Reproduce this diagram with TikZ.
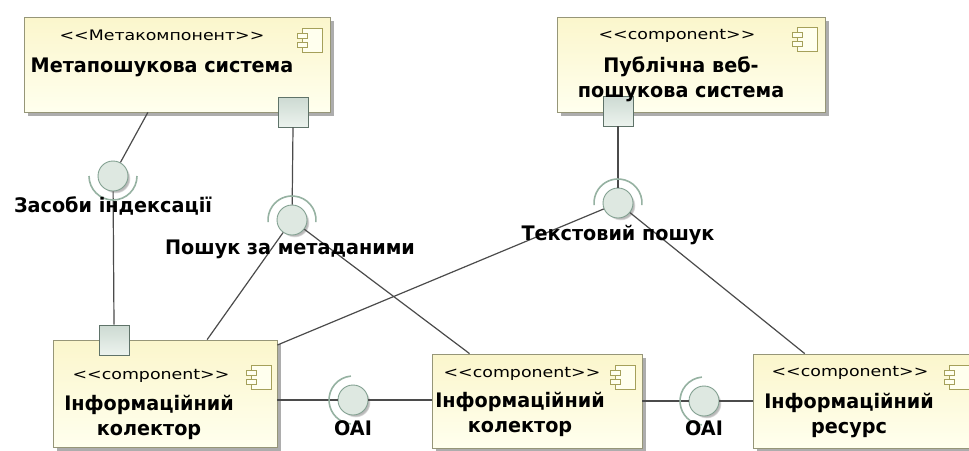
\documentclass[tikz,border=0pt]{standalone}
\usepackage{fontspec}
\setmainfont{DejaVu Sans}
\newfontfamily\stereofont[FakeStretch=1.2]{DejaVu Sans}
\newfontfamily\namefont[FakeStretch=0.96]{DejaVu Sans}
\usetikzlibrary{shadows,calc}

\definecolor{boxtop}{RGB}{251,246,204}
\definecolor{boxbot}{RGB}{255,255,238}
\definecolor{boxline}{RGB}{150,150,120}
\definecolor{iconline}{RGB}{165,160,90}
\definecolor{portline}{RGB}{95,115,105}
\definecolor{porttop}{RGB}{205,218,210}
\definecolor{portbot}{RGB}{236,243,238}
\definecolor{ballfill}{RGB}{222,232,225}
\definecolor{ballline}{RGB}{130,160,145}
\definecolor{socketc}{RGB}{150,178,162}
\definecolor{wirec}{RGB}{75,75,75}

\begin{document}
\begin{tikzpicture}[x=1pt,y=-1pt,
  comp/.style={rectangle, draw=boxline, line width=0.8pt,
    top color=boxtop, bottom color=boxbot, inner sep=0pt,
    drop shadow={shadow xshift=3.5pt, shadow yshift=-3.5pt, fill=black!32, opacity=1}},
  port/.style={rectangle, draw=portline, line width=0.8pt,
    top color=porttop, bottom color=portbot, minimum size=30pt, inner sep=0pt},
  ball/.style={circle, draw=ballline, fill=ballfill, line width=0.9pt,
    minimum size=30pt, inner sep=0pt,
    circular drop shadow={shadow scale=1, shadow xshift=2.5pt, shadow yshift=-2.5pt, fill=black!28, opacity=1}},
  sock/.style={draw=socketc, line width=1.6pt},
  wire/.style={draw=wirec, line width=1.2pt},
  stereo/.style={font=\stereofont\fontsize{14.5}{18}\selectfont, inner sep=0pt, anchor=base},
  % multi-line names: the base anchor sits on the last line
  cname/.style={font=\namefont\bfseries\fontsize{20}{25}\selectfont, align=center, inner sep=0pt, anchor=base},
  lbl/.style={font=\namefont\bfseries\fontsize{20}{25}\selectfont, inner sep=0pt, anchor=base},
  compicon/.pic={
    \draw[iconline, line width=0.9pt, fill=boxbot] (-8,-12) rectangle (12,12);
    \draw[iconline, line width=0.9pt, fill=boxbot] (-13,-7) rectangle (-3,-2);
    \draw[iconline, line width=0.9pt, fill=boxbot] (-13,2) rectangle (-3,7);
  }
]
\useasboundingbox[fill=white] (0,0) rectangle (969,450);

% components
\node[comp, minimum width=306pt, minimum height=95pt] (meta) at (177,64.5) {};
\node[comp, minimum width=268pt, minimum height=95pt] (pub)  at (691,64.5) {};
\node[comp, minimum width=224pt, minimum height=107pt] (colA) at (165,393.5) {};
\node[comp, minimum width=210pt, minimum height=94pt] (colB) at (537,401) {};
\node[comp, minimum width=222pt, minimum height=94pt] (res)  at (864,401) {};

% component icons
\pic at (310,40) {compicon};
\pic at (805,39) {compicon};
\pic at (259,377) {compicon};
\pic at (623,377) {compicon};
\pic at (957,377) {compicon};

% ports
\node[port] (mp) at (293,112) {};
\node[port] (pp) at (618,111) {};
\node[port] (ap) at (114,340) {};

% provided interfaces
\node[ball] (idx)   at (113,176) {};
\node[ball] (mball) at (292,220) {};
\node[ball] (tball) at (618,203) {};
\node[ball] (oai1)  at (353,400) {};
\node[ball] (oai2)  at (704,401) {};

% attachment points on the component borders
\coordinate (m1) at ($(meta.south west)!0.405!(meta.south east)$);
\coordinate (a1) at ($(colA.north west)!0.6875!(colA.north east)$);
\coordinate (a2) at ($(colA.north east)!0.05!(colA.south east)$);
\coordinate (b1) at ($(colB.north west)!0.18!(colB.north east)$);
\coordinate (r1) at ($(res.north west)!0.234!(res.north east)$);

% connectors
\draw[wire] (m1) -- (idx);
\draw[wire] (idx) -- (ap.north);
\draw[wire] (mp.south) -- (mball);
\draw[wire] (mball) -- (a1);
\draw[wire] (mball) -- (b1);
\draw[wire] (pp.south) -- (tball);
\draw[wire] (tball) -- (a2);
\draw[wire] (tball) -- (r1);
\draw[wire] (colA.east |- oai1) -- (oai1);
\draw[wire] (oai1) -- (colB.west |- oai1);
\draw[wire] (colB.east |- oai2) -- (oai2);
\draw[wire] (oai2) -- (res.west |- oai2);

% required interfaces (sockets)
\draw[sock] (idx.center)   ++(180:24pt) arc[start angle=180, end angle=360, radius=24pt];
\draw[sock] (mball.center) ++(-5:24pt)  arc[start angle=-5, end angle=185, radius=24pt];
\draw[sock] (tball.center) ++(-5:24pt)  arc[start angle=-5, end angle=185, radius=24pt];
\draw[sock] (oai1.center)  ++(95:24pt)  arc[start angle=95, end angle=265, radius=24pt];
\draw[sock] (oai2.center)  ++(95:24pt)  arc[start angle=95, end angle=265, radius=24pt];

% component texts
\node[stereo] (metaS) at (162,40) {<<Метакомпонент>>};
\node[cname]  (metaN) at (162,72) {Метапошукова система};
\node[stereo] (pubS)  at (677,39) {<<component>>};
\node[cname]  (pubN)  at (681,97) {Публічна веб-\\пошукова система};
\node[stereo] (colAS) at (151,379) {<<component>>};
\node[cname]  (colAN) at (149,435) {Інформаційний\\колектор};
\node[stereo] (colBS) at (522,377) {<<component>>};
\node[cname]  (colBN) at (520,432) {Інформаційний\\колектор};
\node[stereo] (resS)  at (850,376) {<<component>>};
\node[cname]  (resN)  at (849,433) {Інформаційний\\ресурс};

% interface labels
\node[lbl] (idxL)  at (113,212) {Засоби індексації};
\node[lbl] (mL)    at (290,254) {Пошук за метаданими};
\node[lbl] (tL)    at (618,240) {Текстовий пошук};
\node[lbl] (oL1)   at (353,435) {OAI};
\node[lbl] (oL2)   at (704,435) {OAI};
\end{tikzpicture}
\end{document}
